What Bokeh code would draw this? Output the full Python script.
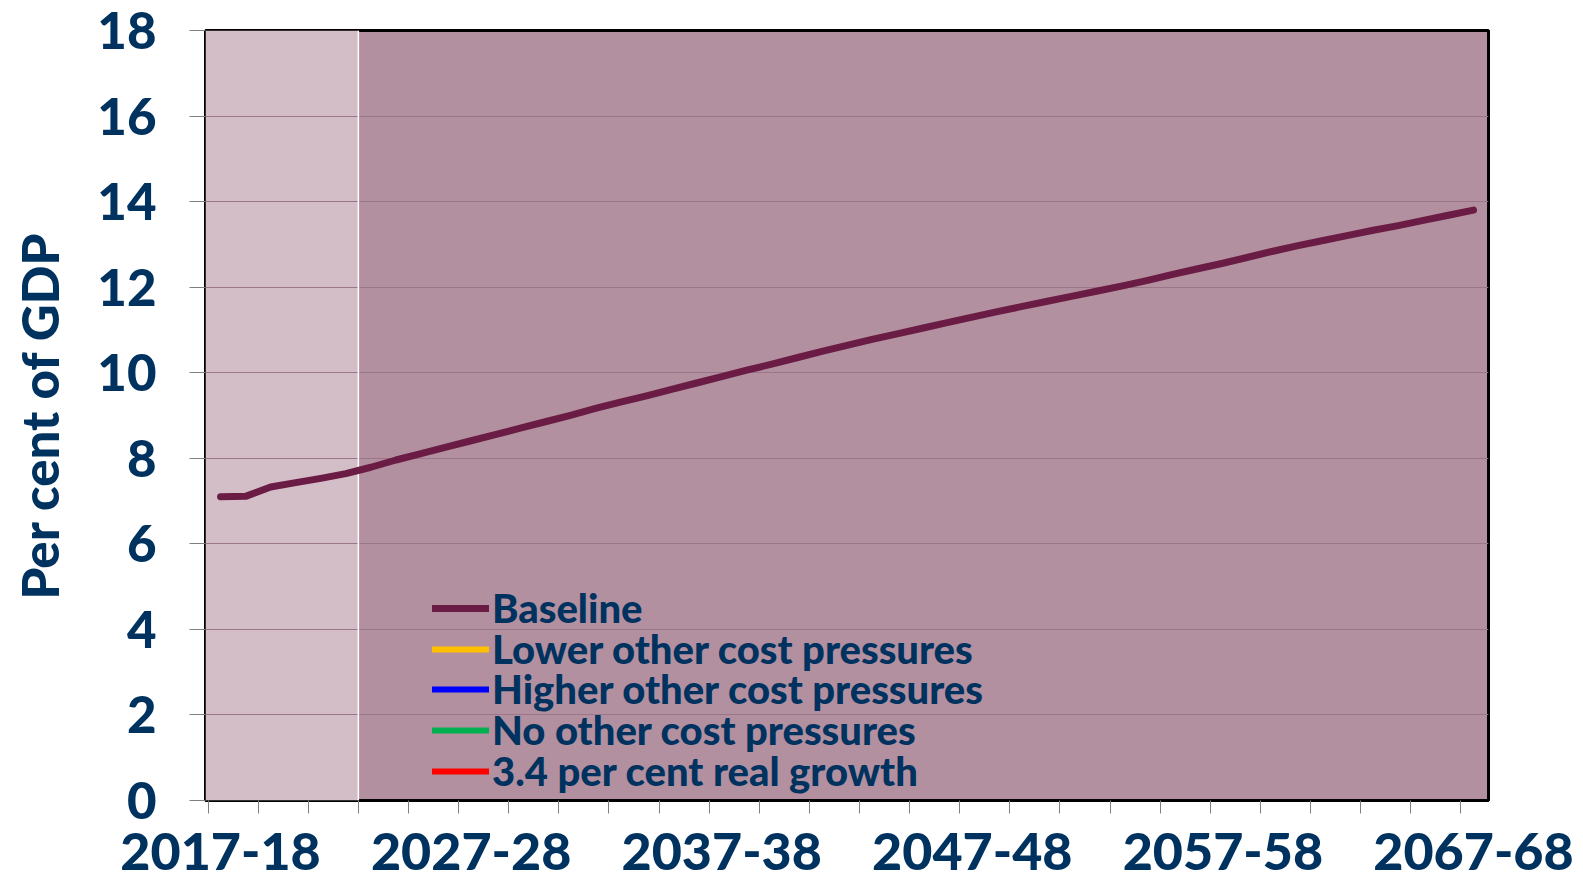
from bokeh.plotting import figure
from bokeh.models import (Range1d, FixedTicker, BoxAnnotation, Span, Legend,
                          LegendItem, ColumnDataSource)
from bokeh.embed import file_html
from bokeh.resources import INLINE

# Financial years on the horizontal axis
years = [f"{y}-{str(y + 1)[-2:]}" for y in range(2017, 2068)]
labelled_years = ["2017-18", "2027-28", "2037-38", "2047-48", "2057-58", "2067-68"]
last_estimate_year = "2022-23"

# Spending, per cent of GDP
baseline = [
    7.10, 7.11, 7.33, 7.43, 7.53, 7.64, 7.79, 7.96, 8.11, 8.26,
    8.41, 8.56, 8.71, 8.86, 9.01, 9.17, 9.32, 9.46, 9.61, 9.76,
    9.91, 10.06, 10.20, 10.35, 10.50, 10.64, 10.78, 10.91, 11.04, 11.17,
    11.30, 11.43, 11.55, 11.67, 11.79, 11.91, 12.03, 12.16, 12.30, 12.43,
    12.56, 12.70, 12.84, 12.97, 13.09, 13.21, 13.33, 13.44, 13.56, 13.68,
    13.80,
]
# Alternative scenarios: listed in the key, not yet plotted
lower_other_cost = []
higher_other_cost = []
no_other_cost = []
real_growth_34 = []

series_labels = ["Baseline", "Lower other cost pressures", "Higher other cost pressures",
                 "No other cost pressures", "3.4 per cent real growth"]
series_values = [baseline, lower_other_cost, higher_other_cost, no_other_cost, real_growth_34]
series_colors = ["#6A1C45", "#FFC000", "#0000FF", "#00B050", "#FF0000"]

y_ticks = list(range(0, 19, 2))

NAVY = "#00325F"
FONT = "'Lato Black', Lato"

n = len(years)
p = figure(width=1583, height=882, output_backend="svg", toolbar_location=None,
           x_range=Range1d(-0.6, n - 1 + 0.6), y_range=Range1d(0, 18),
           min_border_left=205, min_border_right=95, min_border_top=30,
           min_border_bottom=82)
p.background_fill_color = "#B3909F"
p.border_fill_color = "white"
p.outline_line_color = "black"
p.outline_line_width = 3

# Lighter band for the estimates period
split = years.index(last_estimate_year) + 0.5
p.add_layout(BoxAnnotation(right=split, fill_color="#D3BEC7", fill_alpha=1.0,
                           line_color=None, level="image"))
p.add_layout(Span(location=split, dimension="height", line_color="white",
                  line_width=1.5, level="underlay"))

# Y axis
p.yaxis.ticker = FixedTicker(ticks=y_ticks)
p.ygrid.ticker = FixedTicker(ticks=y_ticks[1:-1])
p.ygrid.grid_line_color = "#9A7688"
p.ygrid.grid_line_width = 1
p.xgrid.grid_line_color = None
p.yaxis.axis_line_color = None
p.yaxis.major_tick_in = 0
p.yaxis.major_tick_out = 16
p.yaxis.major_tick_line_color = "#7F7F7F"
p.yaxis.minor_tick_line_color = None
p.yaxis.major_label_standoff = 33
p.yaxis.major_label_text_font = FONT
p.yaxis.major_label_text_font_size = "51px"
p.yaxis.major_label_text_font_style = "bold"
p.yaxis.major_label_text_color = NAVY
p.yaxis.axis_label = "Per cent of GDP"
p.yaxis.axis_label_text_font = FONT
p.yaxis.axis_label_text_font_size = "51px"
p.yaxis.axis_label_text_font_style = "bold"
p.yaxis.axis_label_text_color = NAVY
p.yaxis.axis_label_standoff = 24

# X axis: labels every ten years, tick marks on every second year boundary
label_idx = [years.index(y) for y in labelled_years]
p.xaxis.ticker = FixedTicker(ticks=label_idx,
                             minor_ticks=[i - 0.5 for i in range(0, n, 2)])
p.xaxis.major_label_overrides = {i: years[i] for i in label_idx}
p.xaxis.axis_line_color = None
p.xaxis.major_tick_line_color = None
p.xaxis.major_tick_out = 0
p.xaxis.major_tick_in = 0
p.xaxis.minor_tick_out = 13
p.xaxis.minor_tick_in = 0
p.xaxis.minor_tick_line_color = "#7F7F7F"
p.xaxis.major_label_standoff = 19
p.xaxis.major_label_text_font = FONT
p.xaxis.major_label_text_font_size = "52px"
p.xaxis.major_label_text_font_style = "bold"
p.xaxis.major_label_text_color = NAVY

# Key: one entry per scenario, stacked from the bottom of the plot area
row_pitch = 40.8
for i, (label, vals, color) in enumerate(zip(series_labels, series_values, series_colors)):
    # a scenario with no values yet still needs one (blank) point for its key entry
    data = dict(x=list(range(len(vals))), y=vals) if vals else dict(x=[0], y=[float("nan")])
    r = p.line("x", "y", source=ColumnDataSource(data), line_color=color,
               line_width=7 if vals else 6, line_cap="round", line_join="round")
    key = Legend(items=[LegendItem(label=label, renderers=[r])],
                 location=(227, 5 + (len(series_labels) - 1 - i) * row_pitch),
                 background_fill_alpha=0, border_line_color=None, padding=0, margin=0,
                 label_text_font=FONT, label_text_font_size="40px",
                 label_text_font_style="bold", label_text_color=NAVY,
                 glyph_width=57, glyph_height=20, label_standoff=3)
    p.add_layout(key)

open("out.html", "w").write(file_html(p, INLINE))
